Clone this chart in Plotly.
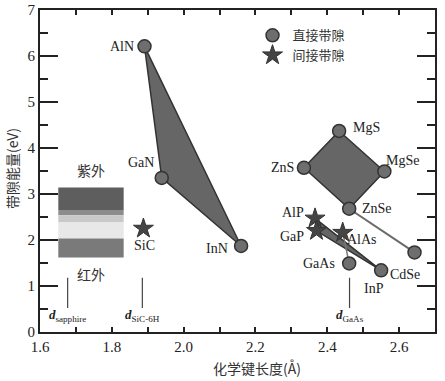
import plotly.graph_objects as go

# ---- data ----
direct_names = ["AlN", "GaN", "InN", "MgS", "ZnS", "MgSe", "ZnSe", "CdSe", "GaAs", "InP"]
direct_x = [1.891, 1.939, 2.160, 2.433, 2.335, 2.559, 2.461, 2.643, 2.461, 2.550]
direct_y = [6.21, 3.35, 1.87, 4.37, 3.57, 3.49, 2.68, 1.73, 1.49, 1.34]

indirect_names = ["SiC", "AlP", "GaP", "AlAs"]
indirect_x = [1.888, 2.366, 2.370, 2.443]
indirect_y = [2.25, 2.47, 2.20, 2.16]

# polygons / lines (by compound name)
nitride_poly = ["AlN", "GaN", "InN"]
ii_vi_poly = ["MgS", "MgSe", "ZnSe", "ZnS"]
phosphide_poly = ["AlP", "InP", "GaP"]
line_znse_cdse = ["ZnSe", "CdSe"]
line_alas_gaas = ["AlAs", "GaAs"]

# spectrum box (eV band edges, top to bottom) and colours
box_x = [1.651, 1.833]
band_edges = [3.14, 2.65, 2.54, 2.39, 2.03, 1.62]
band_colors = ["#5e5e5e", "#8c8c8c", "#c9c9c9", "#e8e8e8", "#7a7a7a"]

# substrate markers
sub_labels = ["<i><b>d</b></i><sub>sapphire</sub>", "<i><b>d</b></i><sub>SiC-6H</sub>", "<i><b>d</b></i><sub>GaAs</sub>"]
sub_x = [1.677, 1.885, 2.462]
sub_line_y = [0.52, 1.18]
sub_label_y = 0.36

# label offsets (pixels) and anchors
label_pos = {
    "AlN": ("right", -9, 0), "GaN": ("right", -6, 15), "InN": ("right", -11, -3),
    "MgS": ("left", 12, 3), "ZnS": ("right", -8, 0), "MgSe": ("left", 0, 11),
    "ZnSe": ("left", 11, 0), "CdSe": ("center", -10, -22), "GaAs": ("right", -12, 0),
    "InP": ("center", -7, -18), "SiC": ("center", 1, -17), "AlP": ("right", -9, 6),
    "GaP": ("right", -11, -6), "AlAs": ("left", 2, -7),
}

pts = {n: (x, y) for n, x, y in zip(direct_names, direct_x, direct_y)}
pts.update({n: (x, y) for n, x, y in zip(indirect_names, indirect_x, indirect_y)})

SERIF = "Liberation Serif"
CJK = "Noto Sans CJK SC"
DARK = "#333333"

fig = go.Figure()

def poly(names, fill=True, color="#666666", lw=1.5, lc="#333333"):
    xs = [pts[n][0] for n in names]
    ys = [pts[n][1] for n in names]
    if fill:
        xs.append(xs[0]); ys.append(ys[0])
    fig.add_trace(go.Scatter(
        x=xs, y=ys, mode="lines", fill="toself" if fill else None,
        fillcolor=color, line=dict(color=lc, width=lw), showlegend=False, hoverinfo="skip"))

poly(nitride_poly)
poly(ii_vi_poly)
poly(phosphide_poly)
poly(line_znse_cdse, fill=False, lw=2, lc="#6a6a6a")
poly(line_alas_gaas, fill=False, lw=1.5, lc="#777777")

# spectrum box
for i, c in enumerate(band_colors):
    fig.add_shape(type="rect", x0=box_x[0], x1=box_x[1], y0=band_edges[i + 1], y1=band_edges[i],
                  fillcolor=c, line=dict(width=0), layer="above")

# substrate lines
for sx, lab in zip(sub_x, sub_labels):
    fig.add_shape(type="line", x0=sx, x1=sx, y0=sub_line_y[0], y1=sub_line_y[1],
                  line=dict(color="#444444", width=1.2))
    fig.add_annotation(x=sx, y=sub_label_y, text=lab, showarrow=False,
                       font=dict(family=SERIF, size=13, color="#222222"))

fig.add_trace(go.Scatter(
    x=direct_x, y=direct_y, mode="markers", name="直接带隙",
    marker=dict(symbol="circle", size=13, color="#6e6e6e", line=dict(color=DARK, width=1.5))))
fig.add_trace(go.Scatter(
    x=indirect_x, y=indirect_y, mode="markers", name="间接带隙",
    marker=dict(symbol="star", size=15, color="#444444", line=dict(color=DARK, width=1))))

for n, (anchor, dx, dy) in label_pos.items():
    x, y = pts[n]
    fig.add_annotation(x=x, y=y, text=n, showarrow=False, xanchor=anchor,
                       xshift=dx, yshift=dy,
                       font=dict(family=SERIF, size=14, color="#222222"))

fig.add_annotation(x=sum(box_x) / 2, y=band_edges[0], yshift=18, text="紫外", showarrow=False,
                   font=dict(family=CJK, size=14, color="#333333"))
fig.add_annotation(x=sum(box_x) / 2, y=band_edges[-1], yshift=-17, text="红外", showarrow=False,
                   font=dict(family=CJK, size=14, color="#333333"))

# axis titles (paper coords relative to plot area: left=40px, top=10px, 395x322)
fig.add_annotation(xref="paper", yref="paper", x=(257 - 40) / 395, y=(332 - 368) / 322,
                   yanchor="middle", text="化学键长度(Å)", showarrow=False,
                   font=dict(family=CJK, size=14, color="#333333"))
fig.add_annotation(xref="paper", yref="paper", x=(12 - 40) / 395, y=(332 - 169) / 322,
                   xanchor="center", yanchor="middle",
                   text="带隙能量(eV)", textangle=-90, showarrow=False,
                   font=dict(family=CJK, size=14, color="#333333"))

axis_common = dict(showgrid=False, zeroline=False, showline=True, linecolor="#222222",
                   linewidth=2, mirror="allticks", ticks="inside", tickcolor="#222222",
                   tickwidth=1.5, automargin=False,
                   tickfont=dict(family=SERIF, size=15, color="#222222"))

fig.update_xaxes(range=[1.6, 2.7], dtick=0.2, tick0=1.6, ticklen=5, tickformat=".1f",
                 minor=dict(dtick=0.1, ticks="inside", ticklen=5, tickcolor="#222222", tickwidth=1.5),
                 **axis_common)
fig.update_yaxes(range=[0, 7], dtick=1, ticklen=18,
                 minor=dict(dtick=0.5, ticks="inside", ticklen=8, tickcolor="#222222", tickwidth=1.5),
                 **axis_common)

fig.update_layout(
    width=445, height=381,
    margin=dict(l=40, r=10, t=10, b=49, autoexpand=False),
    paper_bgcolor="white", plot_bgcolor="white",
    showlegend=True,
    legend=dict(x=0.538, y=0.968, xanchor="left", yanchor="top", bgcolor="rgba(0,0,0,0)",
                font=dict(family=CJK, size=13, color="#333333"), itemwidth=30,
                tracegroupgap=0),
)

# remove the browser's default 8px body margin so the figure fills the window
fig.write_html("out.html",
               config={"displayModeBar": False},
               post_script="document.body.style.margin='0';document.body.style.overflow='hidden';")
